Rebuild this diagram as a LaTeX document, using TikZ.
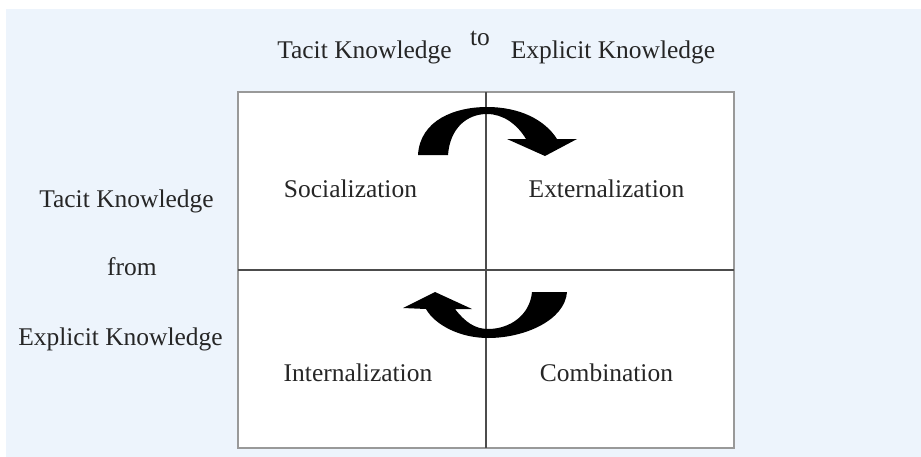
\documentclass[tikz,border=0pt]{standalone}
\usepackage{fontspec}
\setmainfont{Liberation Serif}
\usetikzlibrary{positioning}

\definecolor{bgblue}{RGB}{237,244,252}

\begin{document}
\begin{tikzpicture}[x=0.02cm, y=-0.02cm,
    lbl/.style={font=\fontsize{14.5}{17}\selectfont, text=black!85, anchor=base, inner sep=0pt},
    grid line/.style={draw=black!70, line width=0.8pt},
    turn/.style={fill=black}]
    \useasboundingbox (0,0) rectangle (921,457);
    \fill[bgblue] (6,9) rectangle (921,457);

    % the four quadrants
    \filldraw[fill=white, draw=gray!80, line width=1.1pt] (238,92) rectangle (734,448);
    \coordinate (top) at (486,92);
    \coordinate (bottom) at (486,448);
    \coordinate (left) at (238,270);
    \coordinate (right) at (734,270);
    \draw[grid line] (top) -- (bottom);
    \draw[grid line] (left) -- (right);

    % headings
    \node[lbl] (tacitTop) at (364.5,58) {Tacit Knowledge};
    \node[lbl] (to) at (480,45) {to};
    \node[lbl] (explicitTop) at (613,58) {Explicit Knowledge};

    \node[lbl] (tacitLeft) at (126.5,207) {Tacit Knowledge};
    \node[lbl] (from) at (132,275) {from};
    \node[lbl] (explicitLeft) at (120.5,345) {Explicit Knowledge};

    % quadrant labels
    \node[lbl] (soc) at (350.5,197) {Socialization};
    \node[lbl] (ext) at (606.5,197) {Externalization};
    \node[lbl] (int) at (358,381) {Internalization};
    \node[lbl] (comb) at (606.5,381) {Combination};

    % curved arrows
    \fill[turn] (418,155) .. controls (420,120) and (455,107) .. (487,107)
        .. controls (520,107) and (545,120) .. (557,139) -- (577,139) -- (545,156)
        -- (507,139) -- (526,139) .. controls (517,124) and (503,114) .. (487,114)
        .. controls (467,114) and (450,128) .. (448,155) -- cycle;
    \fill[turn] (532,292) -- (567,292) .. controls (565,320) and (525,338) .. (488,338)
        .. controls (460,338) and (435,325) .. (426,309) -- (403,308) -- (435,292)
        -- (472,309) -- (455,309) .. controls (465,322) and (475,329) .. (488,329)
        .. controls (510,329) and (530,315) .. (532,292) -- cycle;
\end{tikzpicture}
\end{document}
